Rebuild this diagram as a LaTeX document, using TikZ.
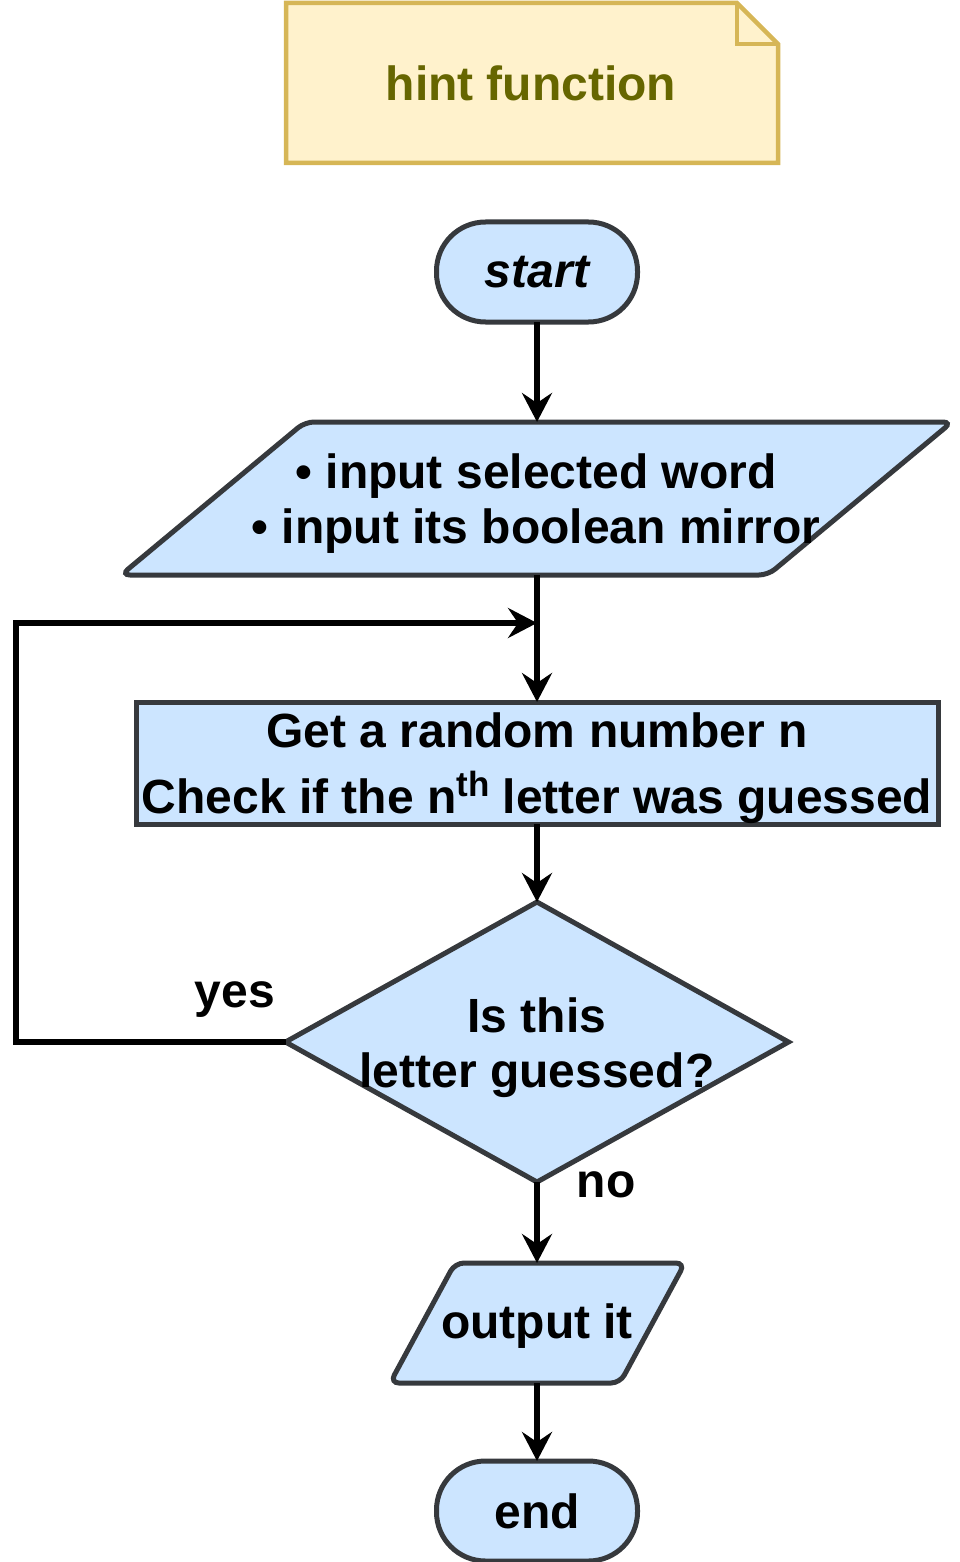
\documentclass[tikz,border=0pt]{standalone}
\usepackage{fontspec}
\setmainfont{Liberation Sans}
\usetikzlibrary{shapes.geometric,arrows.meta,calc}
\definecolor{flowfill}{HTML}{CCE5FF}
\definecolor{flowline}{HTML}{36393D}
\definecolor{notefill}{HTML}{FFF2CC}
\definecolor{noteline}{HTML}{D6B656}
\definecolor{notetext}{HTML}{666600}
\begin{document}
\begin{tikzpicture}[x=1pt,y=-1pt,
  base/.style={draw=flowline, fill=flowfill, line width=5pt, inner sep=0pt, outer sep=0pt},
  txt/.style={font=\fontsize{48}{55}\selectfont\bfseries, align=center, inner sep=0pt},
  term/.style={base, txt, rectangle, rounded corners=49pt, minimum width=201pt, minimum height=100pt},
  iobox/.style={rectangle, inner sep=0pt, outer sep=0pt},
  iodraw/.style={draw=flowline, fill=flowfill, line width=5pt, rounded corners=9pt},
  proc/.style={base, rectangle, minimum width=802pt, minimum height=122pt},
  decision/.style={base, diamond, minimum width=503pt, minimum height=280pt},
  conn/.style={line width=5.5pt, -{Stealth[length=29pt,width=30pt,inset=10pt]}},
  lbl/.style={txt, anchor=base},
]
\useasboundingbox (0,0) rectangle (960,1562);

% note
\draw[fill=notefill, draw=noteline, line width=4.5pt]
  (286,3) -- (737,3) -- (778,44) -- (778,163) -- (286,163) -- cycle;
\draw[draw=noteline, line width=4.5pt] (737,3) -- (737,44) -- (778,44);
\node[txt, text=notetext] (note) at (531,83) {hint function};

% start
\node[term] (start) at (537,272) {\itshape start};

% input (parallelogram)
\node[iobox, minimum width=647pt, minimum height=153pt] (in) at (536.5,498.5) {};
\draw[iodraw] ($(in.north west)+(92,0)$) -- ($(in.north east)+(92,0)$)
  -- ($(in.south east)+(-92,0)$) -- ($(in.south west)+(-92,0)$) -- cycle;
\node[txt] (intext) at (536,504) {• input selected word\\• input its boolean mirror};

% process
\node[proc] (box) at (537,763) {};
\node[txt] (boxtext) at (537,768) {Get a random number n\\[11pt]Check if the n\raisebox{17pt}{\fontsize{35}{35}\selectfont th} letter was guessed};

% decision
\node[decision] (dec) at (537,1042) {};
\node[txt] (dectext) at (537,1048) {Is this\\letter guessed?};

% output (parallelogram)
\node[iobox, minimum width=230pt, minimum height=120pt] (out) at (537.5,1323) {};
\draw[iodraw] ($(out.north west)+(32.5,0)$) -- ($(out.north east)+(32.5,0)$)
  -- ($(out.south east)+(-32.5,0)$) -- ($(out.south west)+(-32.5,0)$) -- cycle;
\node[txt] (outtext) at (537,1326) {output it};

% end
\node[term] (end) at (537,1511) {end};

% connectors
\coordinate (join) at (537,623);
\coordinate (loopcorner) at (16,1042);
\draw[conn] (start.south) -- (start.south |- in.north);
\draw[conn] (in.south -| box.north) -- (box.north);
\draw[conn] (box.south) -- (dec.north);
\draw[conn] (dec.south) -- (dec.south |- out.north);
\draw[conn] (out.south -| end.north) -- (end.north);
\draw[conn] (dec.west) -- (loopcorner) |- (join);

% labels
\node[lbl] (yes) at (235,1007) {yes};
\node[lbl] (no) at (606,1197) {no};
\end{tikzpicture}
\end{document}
